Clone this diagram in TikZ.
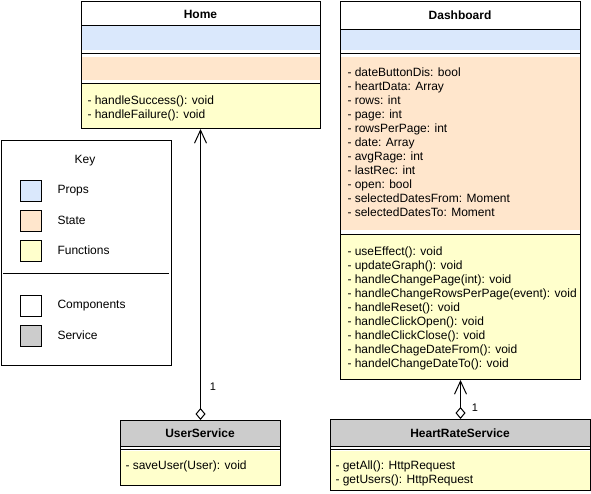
\documentclass[tikz,border=0pt]{standalone}
\usepackage{fontspec}
\setmainfont{Liberation Sans}
\usetikzlibrary{arrows.meta}
\definecolor{propcol}{HTML}{DAE8FC}
\definecolor{statecol}{HTML}{FFE6CC}
\definecolor{funccol}{HTML}{FFFFCC}
\definecolor{servcol}{HTML}{CCCCCC}

\begin{document}
\begin{tikzpicture}[x=1pt,y=-1pt,line width=1pt,
  txt/.style={font=\fontsize{12}{14}\selectfont,align=left,anchor=west,inner sep=0pt},
  ttl/.style={font=\fontsize{12}{14}\selectfont\bfseries,inner sep=0pt},
  frame/.style={draw,anchor=north west,inner sep=0pt},
  swatch/.style={draw,minimum size=21pt,inner sep=0pt,anchor=north west},
  assoc/.style={{Diamond[fill=white,length=12pt,width=10pt]}-{Straight Barb[length=13pt,width=12pt]}}]
\useasboundingbox (0,0) rectangle (591,494);
% Home component: props, state, functions
\fill[propcol] (81,26) rectangle (320,50);
\fill[statecol] (81,57) rectangle (320,80);
\fill[funccol] (81,84) rectangle (320,128);
\node[frame,minimum width=239pt,minimum height=127pt] (home) at (81,1) {};
\draw (81,26) -- (320,26);
\draw (81,54) -- (320,54);
\draw (81,84) -- (320,84);
\node[ttl] (homeT) at (200.5,14) {Home};
\node[txt] (homeFn) at (87,108) {- handleSuccess(): void\\- handleFailure(): void};
% Dashboard component
\fill[propcol] (340,30) rectangle (580,50);
\fill[statecol] (340,57) rectangle (580,230);
\fill[funccol] (340,235) rectangle (580,379);
\node[frame,minimum width=240pt,minimum height=378pt] (dash) at (340,1) {};
\draw (340,30) -- (580,30);
\draw (340,54) -- (580,54);
\draw (340,235) -- (580,235);
\node[ttl] (dashT) at (460,15) {Dashboard};
\node[txt] (dashSt) at (347,142) {- dateButtonDis: bool\\- heartData: Array\\- rows: int\\- page: int\\- rowsPerPage: int\\- date: Array\\- avgRage: int\\- lastRec: int\\- open: bool\\- selectedDatesFrom: Moment\\- selectedDatesTo: Moment};
\node[txt] (dashFn) at (347,308) {- useEffect(): void\\- updateGraph(): void\\- handleChangePage(int): void\\- handleChangeRowsPerPage(event): void\\- handleReset(): void\\- handleClickOpen(): void\\- handleClickClose(): void\\- handleChageDateFrom(): void\\- handelChangeDateTo(): void};
% services
\fill[servcol] (120,420) rectangle (280,446);
\fill[funccol] (120,451) rectangle (280,485);
\node[frame,minimum width=160pt,minimum height=65pt] (userS) at (120,420) {};
\draw (120,446) -- (280,446);
\draw (120,449.5) -- (280,449.5);
\node[ttl] (userT) at (200,433) {UserService};
\node[txt] (userFn) at (125,466) {- saveUser(User): void};
\fill[servcol] (330,419) rectangle (590,446);
\fill[funccol] (330,451) rectangle (590,490);
\node[frame,minimum width=260pt,minimum height=71pt] (heartS) at (330,419) {};
\draw (330,446) -- (590,446);
\draw (330,449.5) -- (590,449.5);
\node[ttl] (heartT) at (460,433) {HeartRateService};
\node[txt] (heartFn) at (335,473.5) {- getAll(): HttpRequest\\- getUsers(): HttpRequest};
% associations
\draw[assoc] (userS.north) -- (userS.north |- home.south);
\draw[assoc] (heartS.north) -- (heartS.north |- dash.south);
\node[font=\fontsize{11}{13}\selectfont] (userN) at (213,387) {1};
\node[font=\fontsize{11}{13}\selectfont] (heartN) at (475,408) {1};
% key
\node[frame,minimum width=170pt,minimum height=225pt] (key) at (1,140) {};
\draw (3,273) -- (169,273);
\node[txt,anchor=center] (keyT) at (85,161) {Key};
\node[swatch,fill=propcol] (kProps) at (20,180) {};
\node[swatch,fill=statecol] (kState) at (20,210) {};
\node[swatch,fill=funccol] (kFunc) at (20,240) {};
\node[swatch,fill=white] (kComp) at (20,295) {};
\node[swatch,fill=servcol] (kServ) at (20,325) {};
\node[txt] (lProps) at (57,190.5) {Props};
\node[txt] (lState) at (57,220.5) {State};
\node[txt] (lFunc) at (57,250.5) {Functions};
\node[txt] (lComp) at (57,305.5) {Components};
\node[txt] (lServ) at (57,335.5) {Service};
\end{tikzpicture}
\end{document}
